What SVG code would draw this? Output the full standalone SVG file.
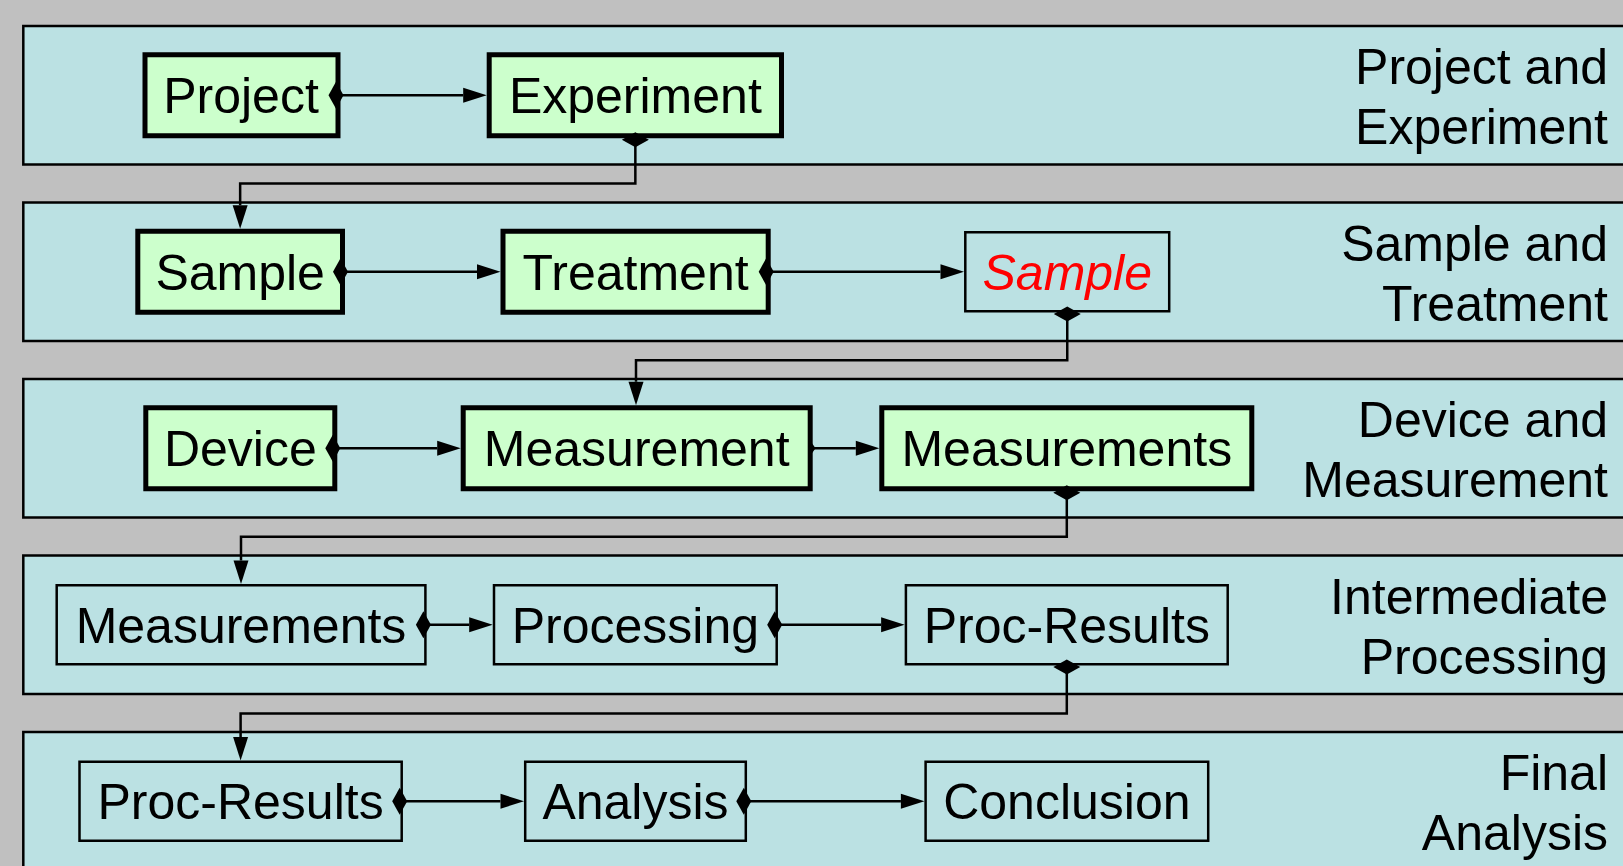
<svg xmlns="http://www.w3.org/2000/svg" width="1623" height="866" viewBox="0 0 1623 866">
<style>
.lane{fill:#bbe1e3;stroke:#000;stroke-width:2.5}
.thick{fill:#ccffcc;stroke:#000;stroke-width:5}
.thin{fill:none;stroke:#000;stroke-width:2.5}
.t{font-family:"Liberation Sans",Arial,Helvetica,sans-serif;font-size:50px;fill:#000}
.c{text-anchor:middle}
.e{text-anchor:end}
.red{fill:#ff0000;font-style:italic}
.ln{fill:none;stroke:#000;stroke-width:2.5}
</style>
<defs>
<marker id="ah" markerUnits="userSpaceOnUse" markerWidth="24" markerHeight="16" refX="0" refY="7.5" orient="auto" overflow="visible">
<polygon points="0,0 23.5,7.5 0,15" fill="#000"/>
</marker>
<marker id="dm" markerUnits="userSpaceOnUse" markerWidth="16" markerHeight="28" refX="7.5" refY="13.5" orient="auto" overflow="visible">
<polygon points="0,13.5 7.5,0 15,13.5 7.5,27" fill="#000"/>
</marker>
<marker id="dms" markerUnits="userSpaceOnUse" markerWidth="8" markerHeight="10" refX="3.5" refY="5" orient="auto" overflow="visible">
<polygon points="0,5 3.5,0 7,5 3.5,10" fill="#000"/>
</marker>
</defs>
<rect x="0" y="0" width="1623" height="866" fill="#c0c0c0"/>

<g id="lanes">
<g id="lane1"><rect class="lane" x="23.3" y="26" width="1700" height="138.5"/>
<text class="t e" x="1608" y="84">Project and</text><text class="t e" x="1608" y="144">Experiment</text></g>
<g id="lane2"><rect class="lane" x="23.3" y="202.5" width="1700" height="138.5"/>
<text class="t e" x="1608" y="260.5">Sample and</text><text class="t e" x="1608" y="320.5">Treatment</text></g>
<g id="lane3"><rect class="lane" x="23.3" y="379" width="1700" height="138.5"/>
<text class="t e" x="1608" y="437">Device and</text><text class="t e" x="1608" y="497">Measurement</text></g>
<g id="lane4"><rect class="lane" x="23.3" y="555.5" width="1700" height="138.5"/>
<text class="t e" x="1608" y="613.5">Intermediate</text><text class="t e" x="1608" y="673.5">Processing</text></g>
<g id="lane5"><rect class="lane" x="23.3" y="732" width="1700" height="138.5"/>
<text class="t e" x="1608" y="790">Final</text><text class="t e" x="1608" y="850">Analysis</text></g>
</g>

<g id="n-project"><rect class="thick" x="145" y="54.75" width="193" height="81"/><text class="t c" x="241" y="113.25">Project</text></g>
<g id="n-experiment"><rect class="thick" x="489.2" y="54.75" width="292.3" height="81"/><text class="t c" x="635.35" y="113.25">Experiment</text></g>

<g id="n-sample"><rect class="thick" x="137.8" y="231.25" width="204.7" height="81"/><text class="t c" x="240.15" y="289.75">Sample</text></g>
<g id="n-treatment"><rect class="thick" x="503" y="231.25" width="265.2" height="81"/><text class="t c" x="635.6" y="289.75">Treatment</text></g>
<g id="n-sample2"><rect class="thin" x="965.3" y="232.25" width="203.9" height="79"/><text class="t c red" x="1067.25" y="289.75">Sample</text></g>

<g id="n-device"><rect class="thick" x="145.8" y="407.75" width="189" height="81"/><text class="t c" x="240.3" y="466.25">Device</text></g>
<g id="n-measurement"><rect class="thick" x="463.2" y="407.75" width="347" height="81"/><text class="t c" x="636.7" y="466.25">Measurement</text></g>
<g id="n-measurements"><rect class="thick" x="881.8" y="407.75" width="370" height="81"/><text class="t c" x="1066.8" y="466.25">Measurements</text></g>

<g id="n-measurements2"><rect class="thin" x="56.7" y="585.25" width="368.7" height="79"/><text class="t c" x="241" y="642.75">Measurements</text></g>
<g id="n-processing"><rect class="thin" x="494" y="585.25" width="282.7" height="79"/><text class="t c" x="635.35" y="642.75">Processing</text></g>
<g id="n-procresults"><rect class="thin" x="905.9" y="585.25" width="321.8" height="79"/><text class="t c" x="1066.8" y="642.75">Proc-Results</text></g>

<g id="n-procresults2"><rect class="thin" x="79.5" y="761.75" width="322.2" height="79"/><text class="t c" x="240.6" y="819.25">Proc-Results</text></g>
<g id="n-analysis"><rect class="thin" x="525.2" y="761.75" width="220.6" height="79"/><text class="t c" x="635.5" y="819.25">Analysis</text></g>
<g id="n-conclusion"><rect class="thin" x="925.6" y="761.75" width="282.6" height="79"/><text class="t c" x="1066.9" y="819.25">Conclusion</text></g>

<g id="connectors">
<path class="ln" d="M336,95.25 H463.2" marker-start="url(#dm)" marker-end="url(#ah)"/>
<path class="ln" d="M340.5,271.75 H477" marker-start="url(#dm)" marker-end="url(#ah)"/>
<path class="ln" d="M766.2,271.75 H940.5" marker-start="url(#dm)" marker-end="url(#ah)"/>
<path class="ln" d="M332.8,448.25 H437.2" marker-start="url(#dm)" marker-end="url(#ah)"/>
<path class="ln" d="M812,448.25 H855.8" marker-start="url(#dms)" marker-end="url(#ah)"/>
<path class="ln" d="M423.4,624.75 H469.2" marker-start="url(#dm)" marker-end="url(#ah)"/>
<path class="ln" d="M774.7,624.75 H881.1" marker-start="url(#dm)" marker-end="url(#ah)"/>
<path class="ln" d="M399.7,801.25 H500.5" marker-start="url(#dm)" marker-end="url(#ah)"/>
<path class="ln" d="M743.8,801.25 H900.9" marker-start="url(#dm)" marker-end="url(#ah)"/>

<path class="ln" d="M635.35,139.8 V183.6 H240.15 V205.25" marker-start="url(#dm)" marker-end="url(#ah)"/>
<path class="ln" d="M1067.25,314 V360.2 H636 V381.75" marker-start="url(#dm)" marker-end="url(#ah)"/>
<path class="ln" d="M1066.8,492.8 V536.8 H241 V560.5" marker-start="url(#dm)" marker-end="url(#ah)"/>
<path class="ln" d="M1066.8,667 V713.4 H240.6 V737" marker-start="url(#dm)" marker-end="url(#ah)"/>
</g>
</svg>
